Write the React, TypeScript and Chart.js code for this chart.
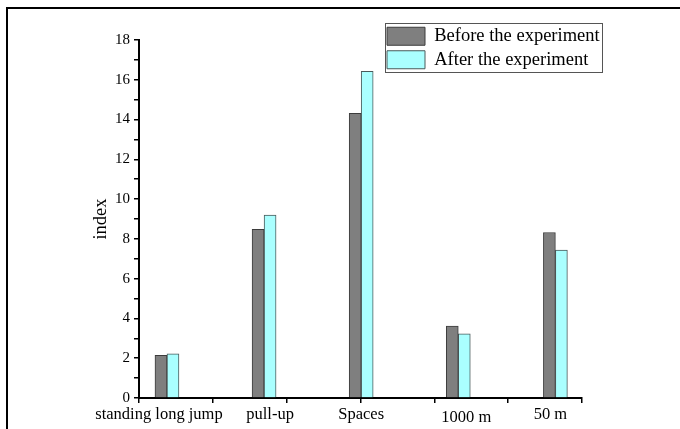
import { useEffect, useRef } from 'react';
import { Chart, registerables } from 'chart.js';

Chart.register(...registerables);

const CATEGORIES = ['standing long jump', 'pull-up', 'Spaces', '1000 m', '50 m'];
const SERIES_NAMES = ['Before the experiment', 'After the experiment'];
const BEFORE = [2.15, 8.48, 14.31, 3.62, 8.32];
const AFTER = [2.22, 9.2, 16.42, 3.23, 7.44];
const Y_MIN = 0;
const Y_MAX = 18;
const X_MIN = 0.712;
const X_MAX = 5.274;
const X_MARK_COUNT = 6;

// style: horizontal nudge of each category label (px), as in the original figure
const LABEL_NUDGE_PX = [-8, 6, 0, 8, -5];
const PLOT_WIDTH_PX = 443;

const SERIF = "'Liberation Serif', 'Times New Roman', serif";

export default function App() {
  const ref = useRef<HTMLCanvasElement | null>(null);

  useEffect(() => {
    if (!ref.current) return;

    const legendPlacer = {
      id: 'legendPlacer',
      beforeDraw(chart: any) {
        const lg = chart.legend;
        if (!lg) return;
        const w = lg.width;
        lg.left = 382;
        lg.top = 22;
        lg.right = lg.left + w;
        lg.bottom = lg.top + 60;
      },
      afterDraw(chart: any) {
        const lg = chart.legend;
        if (!lg) return;
        const ctx = chart.ctx;
        ctx.save();
        ctx.font = `18.5px ${SERIF}`;
        let tw = 0;
        SERIES_NAMES.forEach((s) => {
          tw = Math.max(tw, ctx.measureText(s).width);
        });
        const x0 = lg.left + 3;
        const y0 = lg.top + 1;
        const x1 = lg.left + 5 + 38 + 9 + tw + 3;
        ctx.strokeStyle = '#555';
        ctx.lineWidth = 1;
        ctx.strokeRect(Math.round(x0) + 0.5, Math.round(y0) + 0.5, Math.round(x1 - x0), 49);
        ctx.restore();
      },
    };

    const chart = new Chart(ref.current, {
      type: 'bar',
      data: {
        datasets: [
          {
            label: SERIES_NAMES[0],
            data: BEFORE.map((v, i) => ({ x: i + 1, y: v })),
            backgroundColor: '#7f7f7f',
            borderColor: '#3c3c3c',
            borderWidth: 1,
            barThickness: 12,
          },
          {
            label: SERIES_NAMES[1],
            data: AFTER.map((v, i) => ({ x: i + 1, y: v })),
            backgroundColor: '#aaffff',
            borderColor: '#4a5a5a',
            borderWidth: 1,
            barThickness: 12,
          },
        ],
      },
      options: {
        responsive: false,
        animation: false,
        layout: { padding: { left: 88, top: 40, right: 98, bottom: 0 } },
        plugins: {
          tooltip: { enabled: false },
          legend: {
            position: 'chartArea',
            align: 'start',
            labels: {
              boxWidth: 38,
              boxHeight: 18,
              padding: 5,
              color: '#000',
              font: { family: SERIF, size: 18.5 },
            },
          },
        },
        scales: {
          x: {
            type: 'linear',
            min: X_MIN,
            max: X_MAX,
            offset: false,
            afterBuildTicks: (scale: any) => {
              const marks: any[] = [];
              for (let k = 0; k <= X_MARK_COUNT; k++) {
                marks.push({ value: X_MIN + ((X_MAX - X_MIN) * k) / X_MARK_COUNT });
              }
              const unitPerPx = (X_MAX - X_MIN) / PLOT_WIDTH_PX;
              const cats = CATEGORIES.map((_, i) => ({
                value: i + 1 + LABEL_NUDGE_PX[i] * unitPerPx,
                ci: i,
              }));
              scale.ticks = [...marks, ...cats].sort((a, b) => a.value - b.value);
            },
            afterFit: (scale: any) => {
              scale.height = 31;
            },
            border: { display: true, color: '#000', width: 2 },
            grid: {
              offset: false,
              drawOnChartArea: false,
              drawTicks: true,
              tickLength: 5,
              lineWidth: 1.5,
              color: (ctx: any) =>
                ctx.tick && ctx.tick.ci !== undefined ? 'rgba(0,0,0,0)' : '#000',
            },
            ticks: {
              autoSkip: false,
              maxRotation: 0,
              minRotation: 0,
              padding: 2,
              color: '#000',
              callback: (_v: any, index: number, ticks: any[]) =>
                ticks[index] && ticks[index].ci !== undefined ? CATEGORIES[ticks[index].ci] : '',
              font: (ctx: any) => ({
                family: SERIF,
                size: 16.5,
                lineHeight: ctx.tick && ctx.tick.ci === 3 ? '26px' : '19px',
              }),
            },
          },
          y: {
            min: Y_MIN,
            max: Y_MAX,
            afterFit: (scale: any) => {
              scale.width = 51;
            },
            border: { display: true, color: '#000', width: 2 },
            grid: {
              drawOnChartArea: false,
              drawTicks: true,
              tickLength: 5,
              lineWidth: 1.5,
              color: '#000',
            },
            ticks: {
              stepSize: 1,
              maxTicksLimit: 20,
              autoSkip: false,
              padding: 4,
              color: '#000',
              font: { family: SERIF, size: 15 },
              callback: (v: any) => (Number(v) % 2 === 0 ? String(v) : ''),
            },
            title: {
              display: true,
              text: 'index',
              color: '#000',
              font: { family: SERIF, size: 18.5 },
              padding: { top: 2, bottom: 0 },
            },
          },
        },
      },
      plugins: [legendPlacer],
    } as any);

    return () => chart.destroy();
  }, []);

  return (
    <div style={{ position: 'fixed', left: 0, top: 0, width: 680, height: 429, background: '#fff', overflow: 'hidden' }}>
      <div
        style={{
          position: 'absolute',
          left: 6,
          top: 7,
          width: 700,
          height: 450,
          borderTop: '2px solid #000',
          borderLeft: '2px solid #000',
        }}
      />
      <canvas ref={ref} width={680} height={429} style={{ position: 'absolute', left: 0, top: 0, display: 'block' }} />
    </div>
  );
}
